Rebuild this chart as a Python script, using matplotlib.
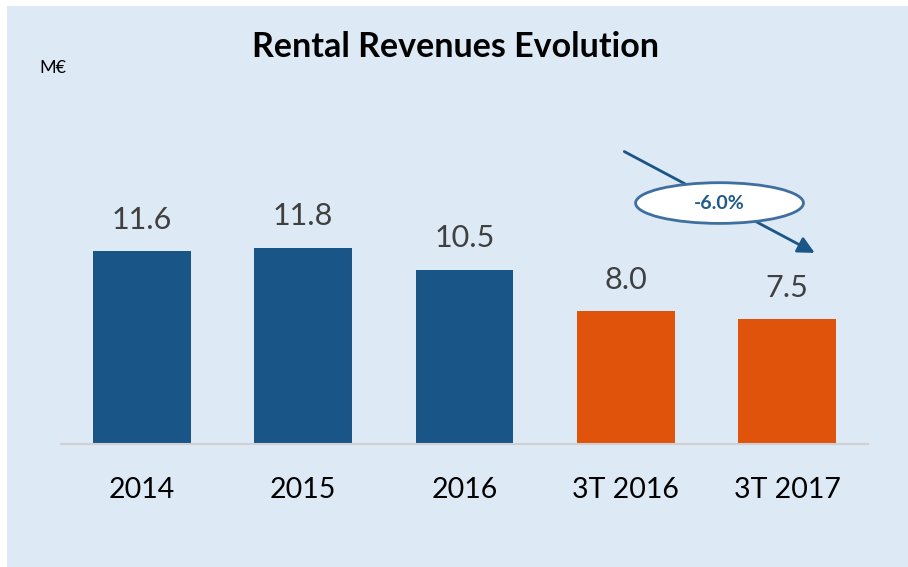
import matplotlib.pyplot as plt
from matplotlib.patches import Ellipse, Rectangle

# data
periods = ["2014", "2015", "2016", "3T 2016", "3T 2017"]
revenues = [11.6, 11.8, 10.5, 8.0, 7.5]
bar_colors = ["#1a5587", "#1a5587", "#1a5587", "#e0530a", "#e0530a"]
change_label = "-6.0%"

plt.rcParams["font.family"] = ["Lato", "DejaVu Sans"]

fig = plt.figure(figsize=(9.08, 5.67), dpi=100)
bg = "#dde9f5"
# light blue panel with a thin white border
fig.patches.append(Rectangle((7 / 908, 0), 1, 561 / 567,
                             transform=fig.transFigure, facecolor=bg,
                             edgecolor="none", zorder=-1))

ax = fig.add_axes([61 / 908, 1 - 444 / 567, 807 / 908, 334 / 567])
ax.set_facecolor("none")

x = range(len(periods))
bars = ax.bar(x, revenues, width=0.607, color=bar_colors, zorder=2)
for b, v in zip(bars, revenues):
    ax.text(b.get_x() + b.get_width() / 2, v + 1.05, f"{v:.1f}",
            ha="center", va="bottom", fontsize=22, color="#404040")

ax.set_xlim(-0.5, len(periods) - 0.5)
ax.set_ylim(0, 20.1)
ax.set_xticks(list(x))
ax.set_xticklabels(periods, fontsize=20.5, color="black")
ax.tick_params(axis="x", length=0, pad=24)
ax.set_yticks([])
for s in ["top", "right", "left"]:
    ax.spines[s].set_visible(False)
ax.spines["bottom"].set_color("#d0d0d0")
ax.spines["bottom"].set_linewidth(1.5)

# trend arrow and change bubble
ax.annotate("", xy=(4.17, 11.5), xytext=(2.99, 17.6),
            arrowprops=dict(arrowstyle="-|>,head_length=1.0,head_width=0.5",
                            color="#1a5587", lw=2, shrinkA=0, shrinkB=0),
            zorder=3)
ax.add_patch(Ellipse((3.58, 14.5), 1.04, 2.45, facecolor="white",
                     edgecolor="#3f6f9e", lw=2, zorder=4))
ax.text(3.58, 14.5, change_label, ha="center", va="center", fontsize=14,
        fontweight="bold", color="#1f5a8a", zorder=5)

fig.text(456 / 908, 1 - 47 / 567, "Rental Revenues Evolution", ha="center",
         va="center", fontsize=24.5, fontweight="bold", color="black")
fig.text(39 / 908, 1 - 68 / 567, "M€", ha="left", va="center", fontsize=13,
         color="black")

fig.savefig("out.png", dpi=100)
